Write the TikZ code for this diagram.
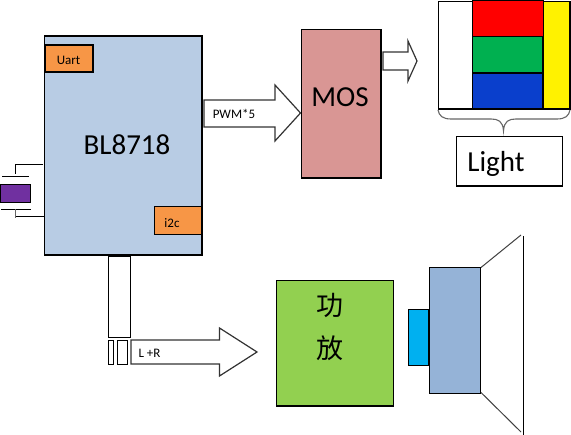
\documentclass[tikz,border=0pt]{standalone}
\usepackage{fontspec}
\setmainfont{Carlito}
\newfontfamily\cjk{Noto Sans CJK SC}
\definecolor{chip}{HTML}{B8CCE4}
\definecolor{orng}{HTML}{F79646}
\definecolor{mosc}{HTML}{D99694}
\definecolor{ampc}{HTML}{92D050}
\definecolor{cyanc}{HTML}{00B0F0}
\definecolor{spk}{HTML}{95B3D7}
\definecolor{purp}{HTML}{7030A0}
\definecolor{grn}{HTML}{00B050}
\definecolor{blu}{HTML}{0A3FCC}
\tikzset{
  x=1pt,y=-1pt,
  box/.style={draw=black,line width=1.1pt},
  wire/.style={draw=black,line width=1.1pt},
  bigarrow/.style={draw=black!80,line width=1.2pt,fill=white,line join=miter},
  txt/.style={inner sep=0pt,text=black},
}
\begin{document}
\begin{tikzpicture}
\useasboundingbox (0,0) rectangle (571,435);
% main chip
\path[box,fill=chip] (44.5,36) rectangle (202,255);
\path[box,fill=orng] (45,45) rectangle (93,72);
\path[box,fill=orng] (154.5,206.5) rectangle (202,234.5);
\node[txt,font=\fontsize{13}{15}\selectfont] (uart) at (68.5,60) {Uart};
\node[txt,font=\fontsize{13}{15}\selectfont] (i2c) at (172,223) {i2c};
\node[txt,font=\fontsize{29}{32}\selectfont] (chip) at (127,145) {BL8718};
% crystal
\path[box,fill=purp] (0.5,184.5) rectangle (30.5,202.5);
\coordinate (xa) at (43,164.5);
\coordinate (xb) at (15.5,164.5);
\coordinate (xc) at (15.5,174);
\coordinate (xd) at (44,216.5);
\coordinate (xe) at (15,216.5);
\coordinate (xf) at (15,209.5);
\path[wire] (xa) -- (xb) -- (xc);
\path[wire] (2,176.5) -- (29,176.5);
\path[wire] (1,209.5) -- (31,209.5);
\path[wire] (xd) -- (xe);
\draw[black!60,line width=1pt] (xf) -- (15,218);
% connector
\path[box,fill=white] (108.5,256.5) rectangle (130.5,337.5);
\path[box,fill=white] (108.5,340.5) rectangle (113.5,364.5);
\path[box,fill=white] (117.5,340.5) rectangle (127.5,364.5);
% PWM arrow
\path[bigarrow] (204,100) -- (275,100) -- (275,85) -- (300.5,113) -- (275,141) -- (275,127) -- (204,127) -- cycle;
\node[txt,font=\fontsize{13}{15}\selectfont] (pwm) at (234,114) {PWM*5};
% MOS
\path[box,fill=mosc] (301.5,29.5) rectangle (381,178);
\node[txt,font=\fontsize{29}{32}\selectfont] (mos) at (340,97) {MOS};
% small arrow
\path[bigarrow] (383,52) -- (408,52) -- (408,41) -- (417,61) -- (408,81) -- (408,70) -- (383,70) -- cycle;
% light block
\path[box,fill=white] (438.5,1.5) rectangle (570,109);
\path[box,fill=yellow] (543.5,1.5) rectangle (570,109);
\path[box,fill=red] (472.5,0.5) rectangle (543.5,36.5);
\path[box,fill=grn] (472.5,36.5) rectangle (542.5,72.5);
\path[box,fill=blu] (472.5,73.5) rectangle (543,109);
% brace
\coordinate (bl) at (438,110);
\coordinate (br) at (570,110);
\coordinate (bt) at (503.5,131);
\draw[black!60,line width=1.1pt] (bl) .. controls (439,116) and (443,119) .. (451,119)
  -- (491,119) .. controls (498,119) and (503,121) .. (bt)
  .. controls (504,121) and (509,119) .. (516,119)
  -- (557,119) .. controls (565,119) and (569,116) .. (br);
% Light box
\path[box,fill=white] (456.5,136.5) rectangle (562.5,186);
\node[txt,font=\fontsize{29}{32}\selectfont] (light) at (496,164) {Light};
% L+R arrow
\path[bigarrow] (131,340) -- (219.5,340) -- (219.5,328) -- (257,352) -- (219.5,376) -- (219.5,364) -- (131,364) -- cycle;
\node[txt,font=\fontsize{13}{15}\selectfont] (lr) at (149.5,353) {L +R};
% amp
\path[box,fill=ampc] (276.5,280.5) rectangle (393.5,406);
\node[txt,font=\cjk\fontsize{27}{30}\selectfont] (gong) at (329.5,305) {功};
\node[txt,font=\cjk\fontsize{27}{30}\selectfont] (fang) at (329.5,348) {放};
% speaker
\path[box,fill=cyanc] (408.5,309.5) rectangle (428.5,365.5);
\path[box,fill=spk] (429.5,267.5) rectangle (480.5,393.5);
\coordinate (ca) at (481,267.5);
\coordinate (cb) at (521,235);
\coordinate (cc) at (481,392.5);
\coordinate (cd) at (521,432);
\draw[black!75,line width=1pt] (ca) -- (cb);
\draw[black!75,line width=1pt] (cc) -- (cd);
\path[wire] (523.5,236) -- (523.5,435);
\end{tikzpicture}
\end{document}
